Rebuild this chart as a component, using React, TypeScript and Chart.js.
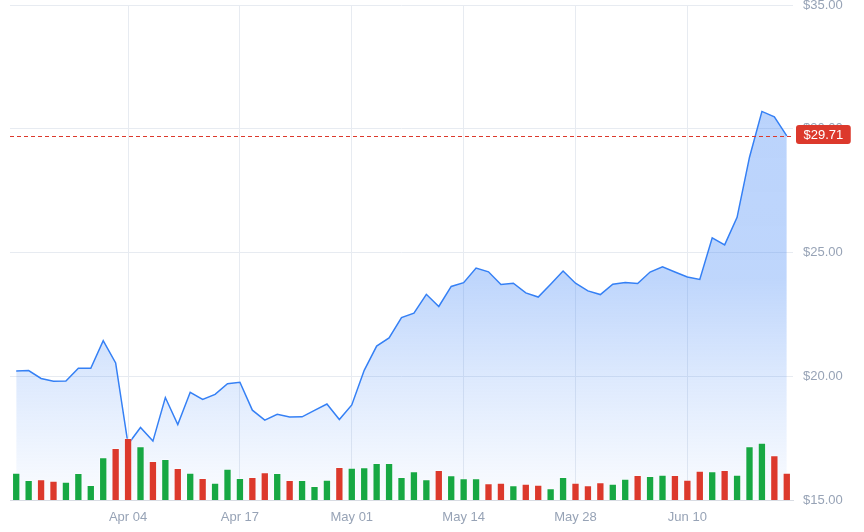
import { useEffect, useRef } from "react";
import { Chart, registerables } from "chart.js";

Chart.register(...registerables);

// trading days, Mar 24 - Jun 23
const dates = [
  "Mar 24", "Mar 25", "Mar 26", "Mar 27", "Mar 28", "Mar 31", "Apr 01", "Apr 02", "Apr 03", "Apr 04",
  "Apr 07", "Apr 08", "Apr 09", "Apr 10", "Apr 11", "Apr 14", "Apr 15", "Apr 16", "Apr 17", "Apr 21",
  "Apr 22", "Apr 23", "Apr 24", "Apr 25", "Apr 28", "Apr 29", "Apr 30", "May 01", "May 02", "May 05",
  "May 06", "May 07", "May 08", "May 09", "May 12", "May 13", "May 14", "May 15", "May 16", "May 19",
  "May 20", "May 21", "May 22", "May 23", "May 27", "May 28", "May 29", "May 30", "Jun 02", "Jun 03",
  "Jun 04", "Jun 05", "Jun 06", "Jun 09", "Jun 10", "Jun 11", "Jun 12", "Jun 13", "Jun 16", "Jun 17",
  "Jun 18", "Jun 20", "Jun 23",
];

const closes = [
  20.21, 20.23, 19.91, 19.8, 19.81, 20.32, 20.32, 21.44, 20.54, 17.25,
  17.93, 17.38, 19.14, 18.05, 19.35, 19.06, 19.27, 19.7, 19.76, 18.63,
  18.23, 18.46, 18.35, 18.36, 18.62, 18.88, 18.25, 18.84, 20.24, 21.22,
  21.55, 22.37, 22.55, 23.31, 22.82, 23.63, 23.78, 24.37, 24.22, 23.71,
  23.76, 23.37, 23.2, 23.72, 24.25, 23.76, 23.45, 23.3, 23.72, 23.79,
  23.75, 24.21, 24.42, 24.21, 24.01, 23.91, 25.59, 25.31, 26.42, 28.85,
  30.7, 30.48, 29.71,
];

// volume, millions of shares
const volumes = [
  10.9, 8.0, 8.3, 7.7, 7.3, 10.8, 6.0, 17.1, 20.8, 24.8,
  21.5, 15.6, 16.4, 12.8, 10.9, 8.8, 6.9, 12.5, 8.8, 9.2,
  11.1, 10.8, 8.0, 8.0, 5.6, 8.1, 13.2, 12.9, 13.1, 14.8,
  14.8, 9.2, 11.5, 8.3, 12.0, 9.9, 8.7, 8.7, 6.7, 6.9,
  5.9, 6.5, 6.1, 4.7, 9.2, 6.9, 5.9, 7.1, 6.5, 8.5,
  10.0, 9.6, 10.1, 10.0, 8.1, 11.7, 11.5, 12.0, 10.1, 21.5,
  22.9, 17.9, 10.9,
];

const shownDates = ["Apr 04", "Apr 17", "May 01", "May 14", "May 28", "Jun 10"];
const lastPrice = 29.71;

const GREEN = "#17a843";
const RED = "#dc392c";
const LINE = "#3580f5";
const GRID = "#e7ebf1";
const TICK = "#97a3b6";
const FONT = "'Liberation Sans', Arial, Helvetica, sans-serif";

const barColors = closes.map((c, i) => (i === 0 || c >= closes[i - 1] ? GREEN : RED));

const lastPricePlugin = {
  id: "lastPrice",
  afterDatasetsDraw(chart: any) {
    const { ctx, chartArea, scales } = chart;
    const y = Math.round(scales.y.getPixelForValue(lastPrice)) + 0.5;
    ctx.save();
    ctx.strokeStyle = RED;
    ctx.lineWidth = 1;
    ctx.setLineDash([4, 3]);
    ctx.beginPath();
    ctx.moveTo(chartArea.left, y);
    ctx.lineTo(chartArea.right, y);
    ctx.stroke();
    ctx.restore();
  },
  afterDraw(chart: any) {
    const { ctx, chartArea, scales } = chart;
    const y = scales.y.getPixelForValue(lastPrice);
    const text = "$" + lastPrice.toFixed(2);
    ctx.save();
    ctx.font = `13px ${FONT}`;
    const w = ctx.measureText(text).width + 15;
    const h = 19;
    const x = chartArea.right + 3;
    ctx.fillStyle = RED;
    ctx.beginPath();
    ctx.roundRect(x, y - h / 2 - 1.5, w, h, 3);
    ctx.fill();
    ctx.fillStyle = "#ffffff";
    ctx.textBaseline = "middle";
    ctx.fillText(text, x + 7.5, y - 1);
    ctx.restore();
  },
};

export default function App() {
  const canvasEl = useRef<HTMLCanvasElement>(null);

  useEffect(() => {
    document.body.style.margin = "0";
    const chart = new Chart(canvasEl.current!, {
      type: "bar",
      data: {
        labels: dates,
        datasets: [
          {
            type: "line",
            label: "Price",
            data: closes,
            yAxisID: "y",
            borderColor: LINE,
            borderWidth: 1.5,
            pointRadius: 0,
            tension: 0,
            fill: "start",
            order: 2,
            backgroundColor: (c: any) => {
              const area = c.chart.chartArea;
              if (!area) return "rgba(59,130,246,0.2)";
              const g = c.chart.ctx.createLinearGradient(0, area.top, 0, area.bottom);
              g.addColorStop(0, "rgba(59,130,246,0.36)");
              g.addColorStop(0.55, "rgba(59,130,246,0.33)");
              g.addColorStop(0.76, "rgba(59,130,246,0.17)");
              g.addColorStop(1, "rgba(59,130,246,0.02)");
              return g;
            },
          } as any,
          {
            type: "bar",
            label: "Volume",
            data: volumes,
            yAxisID: "yVol",
            backgroundColor: barColors,
            borderColor: "rgba(255,255,255,0.35)",
            borderWidth: 1,
            barPercentage: 0.67,
            categoryPercentage: 1,
            order: 1,
          },
        ],
      },
      options: {
        animation: false,
        responsive: true,
        maintainAspectRatio: false,
        layout: { padding: { top: 5, left: 10 } },
        plugins: { legend: { display: false }, tooltip: { enabled: false } },
        scales: {
          x: {
            type: "category",
            offset: true,
            grid: {
              offset: false,
              drawTicks: false,
              color: (c: any) => (shownDates.includes(dates[c.index]) ? GRID : "rgba(0,0,0,0)"),
            },
            border: { display: true, color: "#d8dce3" },
            ticks: {
              autoSkip: false,
              maxRotation: 0,
              padding: 10,
              color: TICK,
              font: { size: 13, family: FONT },
              callback: (v: any) => (shownDates.includes(dates[v]) ? dates[v] : ""),
            },
            afterFit: (s: any) => {
              s.height = 32;
              s.paddingLeft = 0;
              s.paddingRight = 0;
            },
          },
          y: {
            position: "right",
            min: 15,
            max: 35,
            grid: { color: GRID, drawTicks: false },
            border: { display: false },
            ticks: {
              stepSize: 5,
              padding: 10,
              color: TICK,
              font: { size: 13, family: FONT },
              callback: (v: any) => "$" + Number(v).toFixed(2),
            },
            afterFit: (s: any) => {
              s.width = 71;
              s.paddingTop = 0;
              s.paddingBottom = 0;
            },
          },
          yVol: {
            display: false,
            min: 0,
            max: 198,
          },
        },
      },
      plugins: [lastPricePlugin],
    });
    return () => {
      chart.destroy();
    };
  }, []);

  return (
    <div style={{ position: "fixed", left: 0, top: 0, width: 864, height: 532 }}>
      <canvas ref={canvasEl} />
    </div>
  );
}
